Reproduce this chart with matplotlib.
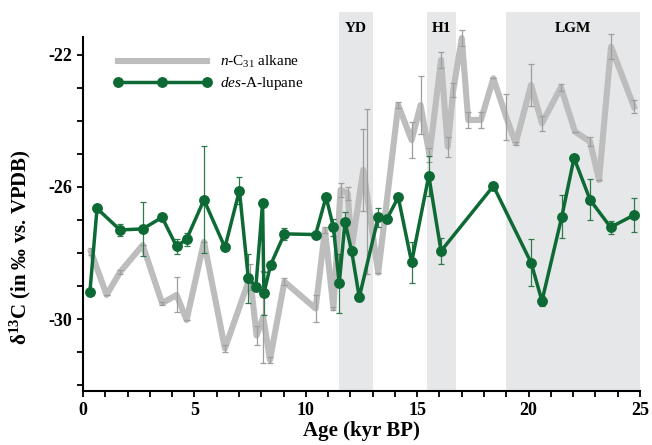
import numpy as np
import matplotlib
matplotlib.use("Agg")
import matplotlib.pyplot as plt
from matplotlib.ticker import MultipleLocator

plt.rcParams["font.family"] = ["Liberation Serif", "DejaVu Serif"]
plt.rcParams["mathtext.fontset"] = "custom"
plt.rcParams["mathtext.rm"] = "Liberation Serif"
plt.rcParams["mathtext.it"] = "Liberation Serif:italic"
plt.rcParams["mathtext.bf"] = "Liberation Serif:bold"
plt.rcParams["axes.unicode_minus"] = False

# --- n-C31 alkane (grey) ---
alk_age = [0.36, 1.06, 1.66, 2.68, 3.55, 4.20, 4.65, 5.43, 6.37, 7.50, 7.79, 8.09,
           8.39, 9.04, 10.44, 10.86, 11.24, 11.56, 11.88, 12.06, 12.58, 12.73, 13.25,
           14.15, 14.75, 15.15, 15.55, 16.07, 16.37, 16.62, 17.00, 17.29, 17.86, 18.42,
           18.99, 19.42, 20.11, 20.60, 21.45, 22.08, 22.76, 23.16, 23.70, 24.73]
alk_d13c = [-27.96, -29.27, -28.58, -27.76, -29.52, -29.27, -30.03, -27.66, -30.89,
            -28.72, -30.50, -29.93, -31.24, -28.87, -29.68, -27.30, -29.68, -26.09,
            -26.19, -27.85, -25.48, -26.15, -28.60, -23.52, -24.58, -23.52, -25.03,
            -22.15, -24.78, -23.06, -21.49, -23.97, -23.97, -22.71, -23.87, -24.68,
            -22.91, -24.07, -22.98, -24.32, -24.63, -25.79, -21.75, -23.57]
alk_err = [0.10, 0.0, 0.06, 0.0, 0.05, 0.53, 0.0, 0.0, 0.10, 0.40, 0.30, 1.40,
           0.10, 0.10, 0.42, 0.10, 0.05, 0.20, 0.20, 0.0, 1.24, 2.50, 0.0,
           0.10, 0.55, 0.87, 0.20, 0.25, 0.30, 0.20, 0.25, 0.25, 0.25, 0.0,
           0.70, 0.05, 0.63, 0.23, 0.10, 0.0, 0.13, 0.0, 0.37, 0.20]

# --- des-A-lupane (green) ---
lup_age = [0.31, 0.63, 1.66, 2.68, 3.55, 4.20, 4.65, 5.43, 6.37, 7.02, 7.42, 7.76,
           8.06, 8.12, 8.42, 9.04, 10.44, 10.91, 11.24, 11.50, 11.76, 12.06, 12.40,
           13.25, 13.63, 14.15, 14.75, 15.52, 16.07, 18.42, 20.11, 20.60, 21.49,
           22.04, 22.76, 23.68, 24.73]
lup_d13c = [-29.18, -26.65, -27.30, -27.27, -26.92, -27.80, -27.58, -26.39, -27.83,
            -26.11, -28.77, -29.02, -26.48, -29.22, -28.36, -27.42, -27.44, -26.30,
            -27.22, -28.92, -27.06, -27.95, -29.34, -26.92, -26.98, -26.31, -28.28,
            -25.66, -27.94, -25.97, -28.29, -29.45, -26.90, -25.12, -26.39, -27.22,
            -26.85]
lup_err = [0.0, 0.0, 0.17, 0.82, 0.0, 0.23, 0.20, 1.62, 0.0, 0.42, 0.74, 0.10,
           0.0, 0.65, 0.0, 0.19, 0.0, 0.10, 0.25, 0.90, 0.30, 0.0, 0.10,
           0.28, 0.0, 0.0, 0.62, 0.60, 0.40, 0.0, 0.72, 0.15, 0.65,
           0.0, 0.62, 0.20, 0.52]

# climatic intervals
periods = ["YD", "H1", "LGM"]
period_start = [11.5, 15.45, 19.0]
period_end = [13.0, 16.75, 25.0]

grey = "#BDBDBD"
green = "#0D6A34"

fig = plt.figure(figsize=(6.52, 4.45), dpi=100)
ax = fig.add_axes([0.1273, 0.1213, 0.8543, 0.8517])

for name, s, e in zip(periods, period_start, period_end):
    ax.axvspan(s, e, color="#E6E7E9", lw=0, zorder=0)
    ax.text((s + e) / 2, -21.2, name, ha="center", va="center",
            fontsize=11, fontweight="bold", zorder=5)

ax.errorbar(alk_age, alk_d13c, yerr=alk_err, fmt="none", ecolor="#9E9E9E",
            elinewidth=0.9, capsize=2, capthick=0.9, zorder=2)
ax.plot(alk_age, alk_d13c, color=grey, lw=4.4, zorder=1.5,
        label="$n$-C$_{31}$ alkane")

ax.errorbar(lup_age, lup_d13c, yerr=lup_err, fmt="none", ecolor="#2F7A4B",
            elinewidth=0.9, capsize=2, capthick=0.9, zorder=3)
ax.plot(lup_age, lup_d13c, color=green, lw=2.5, marker="o", ms=6.8,
        zorder=4, label="$des$-A-lupane")

ax.set_xlim(0, 25)
ax.set_ylim(-32.18, -20.70)
ax.xaxis.set_major_locator(MultipleLocator(5))
ax.xaxis.set_minor_locator(MultipleLocator(1))
ax.set_yticks([-22, -26, -30])
ax.set_yticks(list(range(-32, -21)), minor=True)

for side in ["top", "right"]:
    ax.spines[side].set_visible(False)
ax.spines["left"].set_linewidth(1.5)
ax.spines["bottom"].set_linewidth(1.5)
ax.spines["left"].set_bounds(-32.18, -21.45)

ax.tick_params(which="both", direction="out", width=1.3)
ax.tick_params(which="major", length=4.5, labelsize=13)
ax.tick_params(which="minor", length=4)
for lbl in ax.get_xticklabels() + ax.get_yticklabels():
    lbl.set_fontweight("bold")

ax.set_xlabel("Age (kyr BP)", fontsize=15, fontweight="bold", labelpad=1)
ax.set_ylabel("δ$^{\\mathbf{13}}$C (in ‰ vs. VPDB)", fontsize=15,
              fontweight="bold")
ax.yaxis.set_label_coords(-0.09, 0.38)

ax.legend(loc="upper left", bbox_to_anchor=(0.03, 0.925), frameon=False,
          fontsize=11, handlelength=6.4, numpoints=3, handletextpad=0.6,
          labelspacing=0.3)

fig.savefig("out.png", dpi=100)
